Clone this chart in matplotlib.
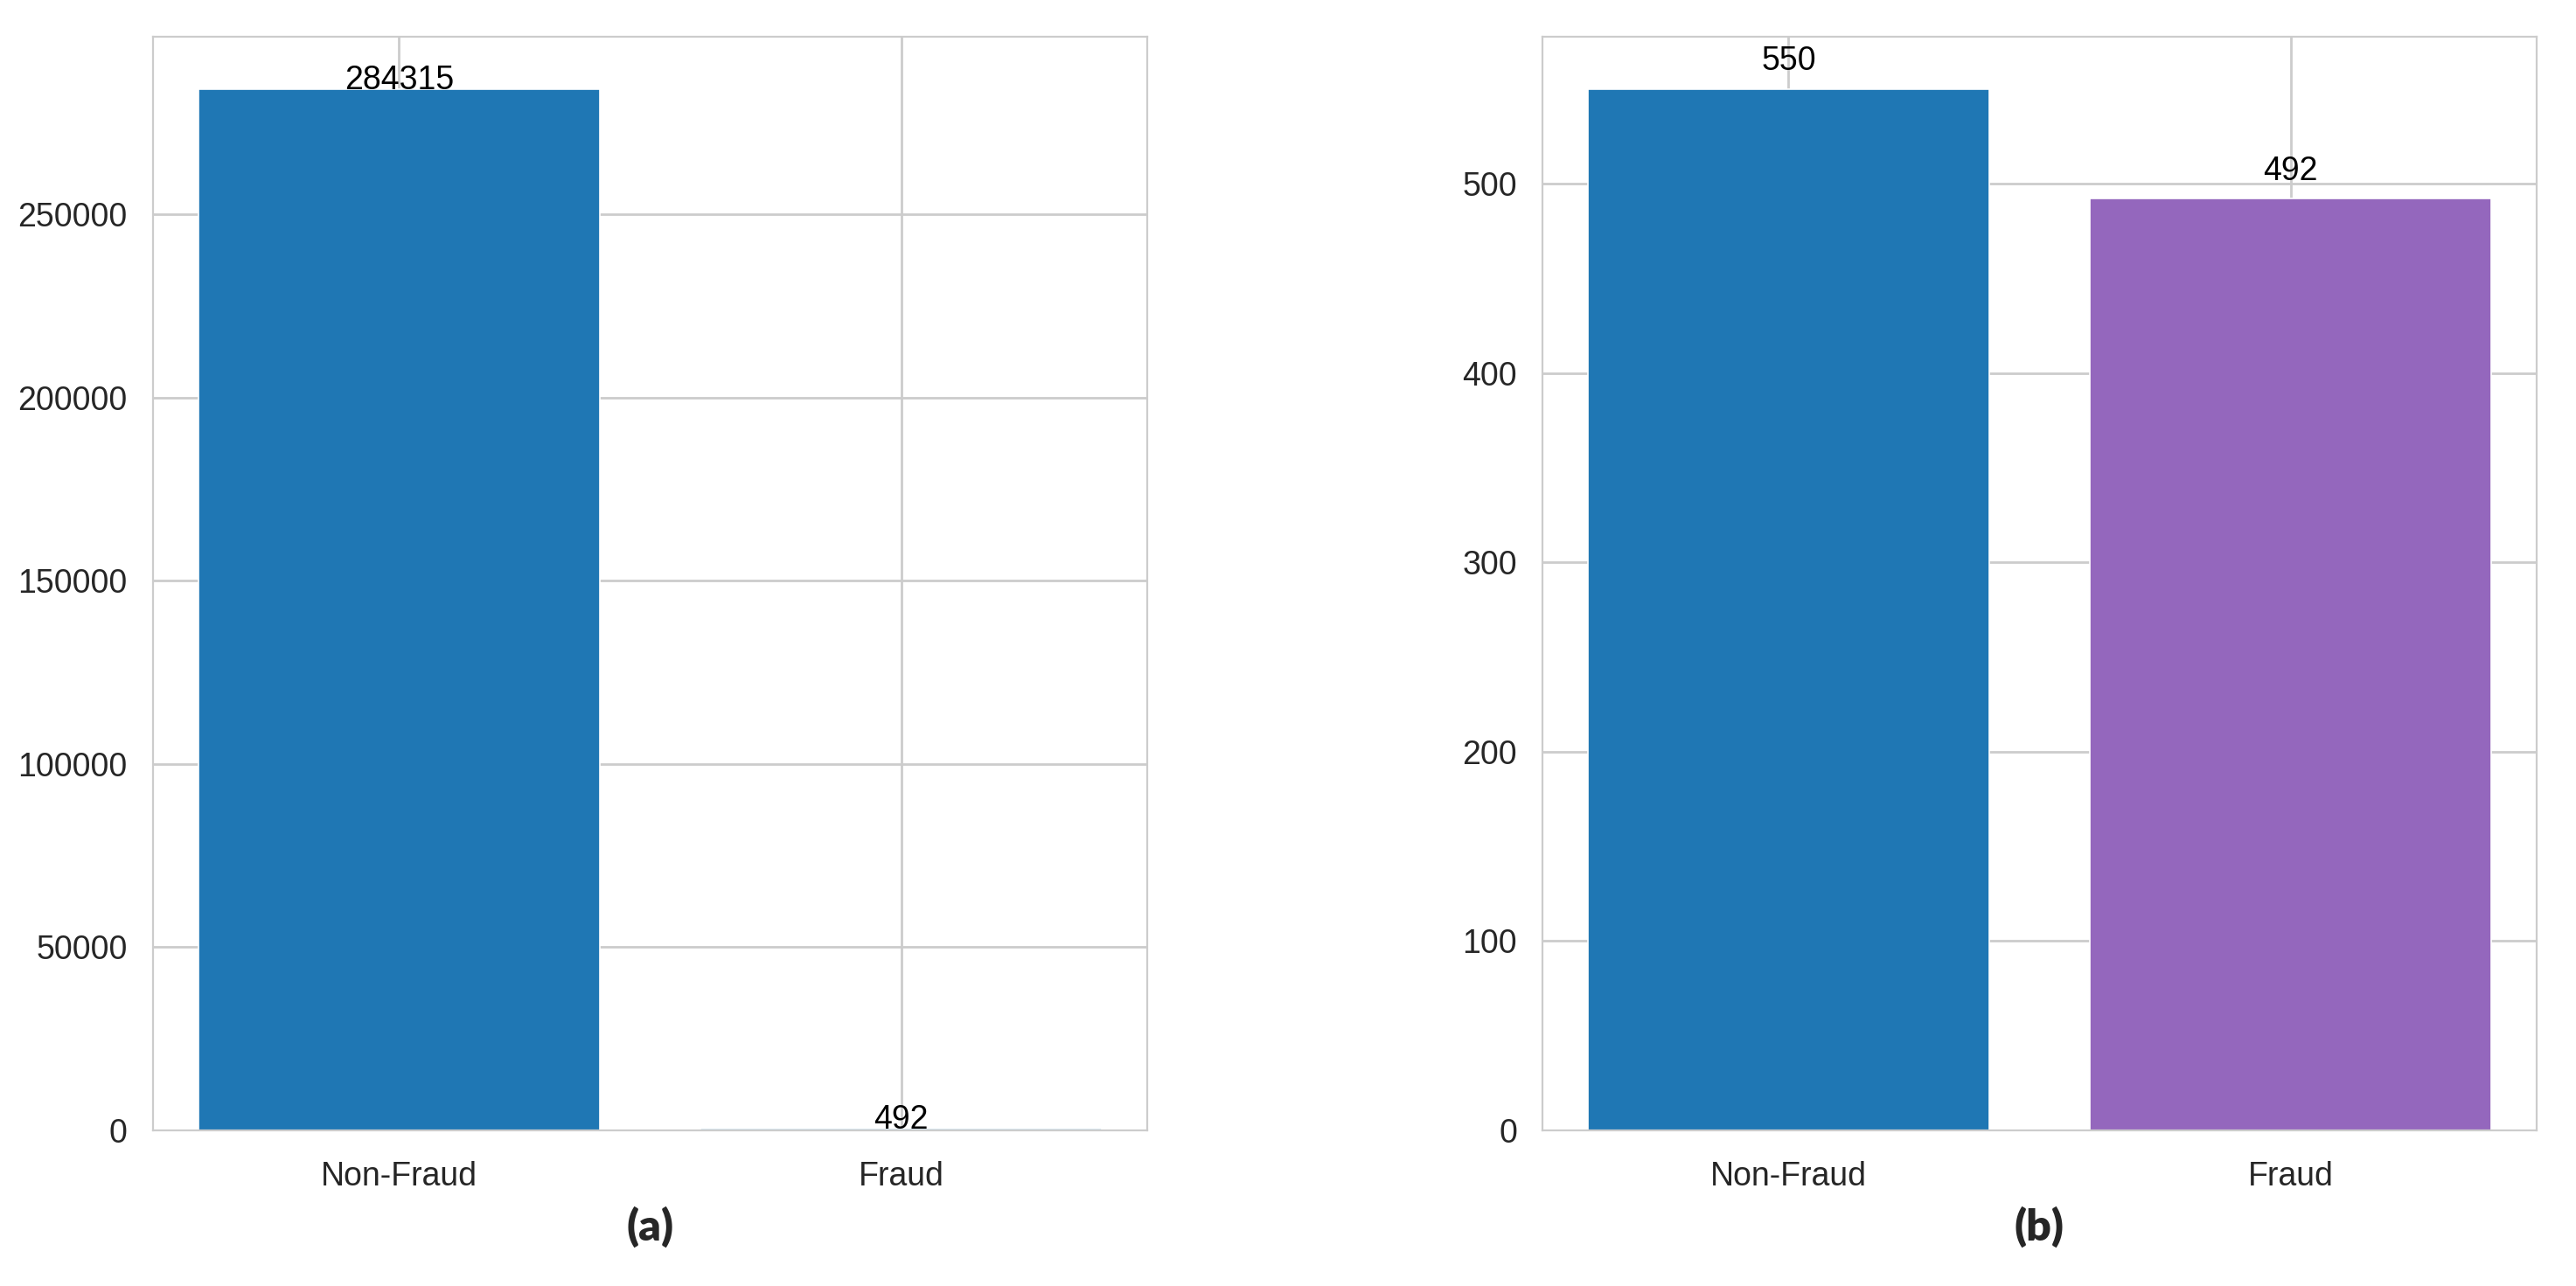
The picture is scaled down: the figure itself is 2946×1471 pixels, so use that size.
import matplotlib
matplotlib.use("Agg")
import matplotlib.pyplot as plt
import seaborn as sns

# class counts before and after balancing
categories = ["Non-Fraud", "Fraud"]
counts_original = [284315, 492]
counts_balanced = [550, 492]
panel_labels = ["(a)", "(b)"]

sns.set_style("whitegrid")
plt.rcParams['font.family'] = ['Liberation Sans', 'DejaVu Sans']

fig = plt.figure(figsize=(14.73, 7.355), dpi=200)
ax1 = fig.add_axes([0.0594, 0.121, 0.3859, 0.8504])
ax2 = fig.add_axes([0.5988, 0.121, 0.3859, 0.8504])

panels = [
    (ax1, counts_original, ["#1f77b4", "#1f77b4"]),
    (ax2, counts_balanced, ["#1f77b4", "#9467bd"]),
]

for (ax, vals, colors), lab in zip(panels, panel_labels):
    bars = ax.bar(categories, vals, color=colors, width=0.8,
                  edgecolor="white", linewidth=0.6)
    for b, v in zip(bars, vals):
        ax.text(b.get_x() + b.get_width() / 2, v + 10, str(v),
                ha="center", va="baseline", fontsize=13.5, color="black")
    ax.tick_params(axis="y", labelsize=13.5, pad=7, colors=".15")
    ax.tick_params(axis="x", labelsize=13.5, pad=9, colors=".15")
    ax.grid(True, color=".8", linewidth=1.0)
    for s in ax.spines.values():
        s.set_color(".8")
    ax.set_axisbelow(True)
    # panel label under each axes
    pos = ax.get_position()
    fig.text((pos.x0 + pos.x1) / 2, 0.046, lab, ha="center", va="center",
             fontsize=18, fontweight="heavy", family=["Lato", "DejaVu Sans"])

fig.savefig("out.png", dpi=200)
